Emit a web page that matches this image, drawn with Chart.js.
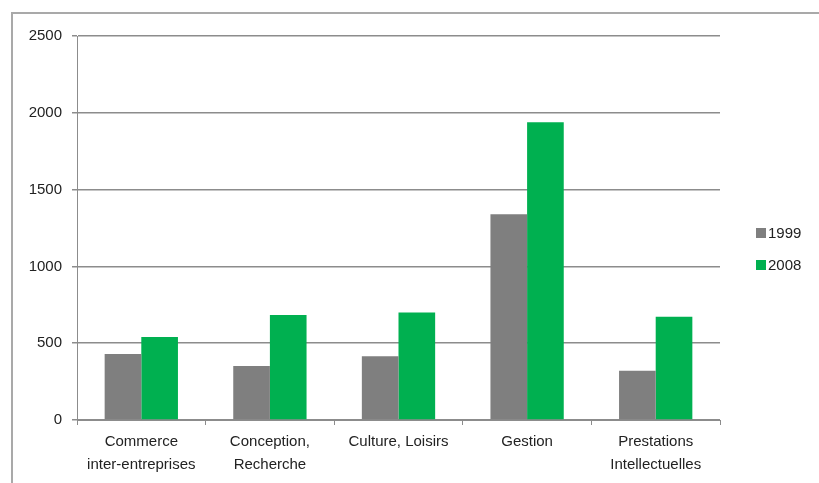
<!DOCTYPE html>
<html>
<head>
<meta charset="utf-8">
<script src="https://cdn.jsdelivr.net/npm/chart.js@4.4.1/dist/chart.umd.min.js"></script>
<style>
  html, body { margin: 0; padding: 0; background: #fff; overflow: hidden; }
  #wrap { position: relative; width: 819px; height: 483px; }
  #frame {
    position: absolute; left: 11px; top: 12px; width: 900px; height: 600px;
    border: 2px solid #a9a9a9; box-sizing: border-box;
  }
  canvas { position: absolute; left: 0; top: 0; }
</style>
</head>
<body>
<div id="wrap">
  <div id="frame"></div>
  <canvas id="chart" width="819" height="483"></canvas>
</div>
<script>
// ========================
// DONNÉES
// ========================

const categories = [
  ['Commerce', 'inter-entreprises'],
  ['Conception,', 'Recherche'],
  'Culture, Loisirs',
  'Gestion',
  ['Prestations', 'Intellectuelles']
];
const values1999 = [430, 352, 415, 1340, 320];
const values2008 = [540, 684, 700, 1938, 672];
const yTicks = [0, 500, 1000, 1500, 2000, 2500];

const FONT = '"Liberation Sans", Arial, sans-serif';

// légende à droite, dessinée à la main
const sideLegend = {
  id: 'sideLegend',
  afterDraw(chart) {
    const c = chart.ctx;
    c.save();
    c.font = '15px ' + FONT;
    c.textBaseline = 'middle';
    chart.data.datasets.forEach((ds, i) => {
      const y = 233 + i * 32;
      c.fillStyle = ds.backgroundColor;
      c.fillRect(756, y - 5, 10, 10);
      c.fillStyle = '#222';
      c.fillText(ds.label, 768, y + 1);
    });
    c.restore();
  }
};

new Chart(document.getElementById('chart'), {
  type: 'bar',
  data: {
    labels: categories,
    datasets: [
      { label: '1999', data: values1999, backgroundColor: '#7f7f7f' },
      { label: '2008', data: values2008, backgroundColor: '#00b050' }
    ]
  },
  options: {
    responsive: false,
    animation: false,
    events: [],
    layout: { padding: { left: 14, top: 36, right: 99, bottom: 0 } },
    datasets: {
      bar: { categoryPercentage: 0.57, barPercentage: 1.0 }
    },
    plugins: {
      legend: { display: false },
      tooltip: { enabled: false }
    },
    scales: {
      x: {
        afterFit: s => { s.height = 63; },
        grid: {
          drawOnChartArea: false,
          drawTicks: true,
          tickLength: 5,
          color: '#8c8c8c'
        },
        border: { color: '#8c8c8c', width: 1 },
        ticks: {
          color: '#222',
          font: { family: FONT, size: 15, lineHeight: 1.5 },
          padding: 6,
          maxRotation: 0,
          autoSkip: false
        }
      },
      y: {
        min: 0,
        max: 2500,
        afterFit: s => { s.width = 63; },
        afterBuildTicks: s => { s.ticks = yTicks.map(v => ({ value: v })); },
        grid: {
          color: '#8c8c8c',
          lineWidth: 1.5,
          tickLength: 5
        },
        border: { color: '#8c8c8c', width: 1 },
        ticks: {
          color: '#222',
          font: { family: FONT, size: 15 },
          padding: 10,
          callback: v => String(v)
        }
      }
    }
  },
  plugins: [sideLegend]
});
</script>
</body>
</html>
